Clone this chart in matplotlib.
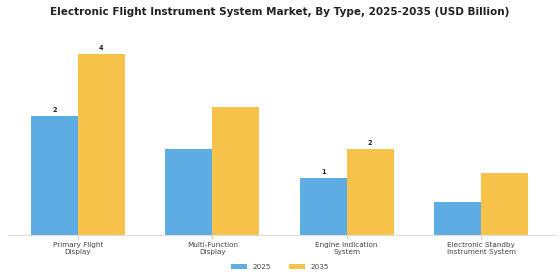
import matplotlib
matplotlib.use("Agg")
import matplotlib.pyplot as plt
import numpy as np

categories = ["Primary Flight\nDisplay", "Multi-Function\nDisplay", "Engine Indication\nSystem", "Electronic Standby\nInstrument System"]
values_2025 = [2.43, 1.75, 1.16, 0.67]
values_2035 = [3.69, 2.62, 1.75, 1.26]
shown_2025 = ["2", "", "1", ""]
shown_2035 = ["4", "", "2", ""]
series_names = ["2025", "2035"]

c25 = "#5DADE2"
c35 = "#F7C24A"

fig = plt.figure(figsize=(5.6, 2.8), dpi=100)
ax = fig.add_axes([8/560, 1 - 235/280, (555-8)/560, (235-30)/280])

x = np.arange(len(categories))
w = 0.35
b1 = ax.bar(x - w/2, values_2025, w, color=c25, label=series_names[0])
b2 = ax.bar(x + w/2, values_2035, w, color=c35, label=series_names[1])

for bars, shown in ((b1, shown_2025), (b2, shown_2035)):
    for rect, t in zip(bars, shown):
        if t:
            ax.text(rect.get_x() + rect.get_width()/2, rect.get_height() + 0.07, t,
                    ha="center", va="bottom", fontsize=4.8, fontweight="bold", color="#222222")

ax.set_xlim(-0.52, 3.55)
ax.set_ylim(0, 205/49)
ax.set_xticks(x)
ax.set_xticklabels(categories, fontsize=5.2, color="#444444", linespacing=1.25)
ax.tick_params(axis="x", length=3, width=0.6, color="#bbbbbb", pad=2)
ax.set_yticks([])
for s in ["top", "right", "left"]:
    ax.spines[s].set_visible(False)
ax.spines["bottom"].set_color("#dddddd")
ax.spines["bottom"].set_linewidth(0.8)

fig.text(0.5, 1 - 12/280, "Electronic Flight Instrument System Market, By Type, 2025-2035 (USD Billion)",
         ha="center", va="center", fontsize=7.5, fontweight="bold", color="#222222")

fig.legend(handles=[b1, b2], labels=series_names, loc="center", bbox_to_anchor=(0.5, 1 - 267/280),
           ncol=2, frameon=False, fontsize=5.2, handlelength=2.2, handleheight=0.6, columnspacing=2.5,
           labelcolor="#444444")

fig.savefig("out.png", dpi=100)
